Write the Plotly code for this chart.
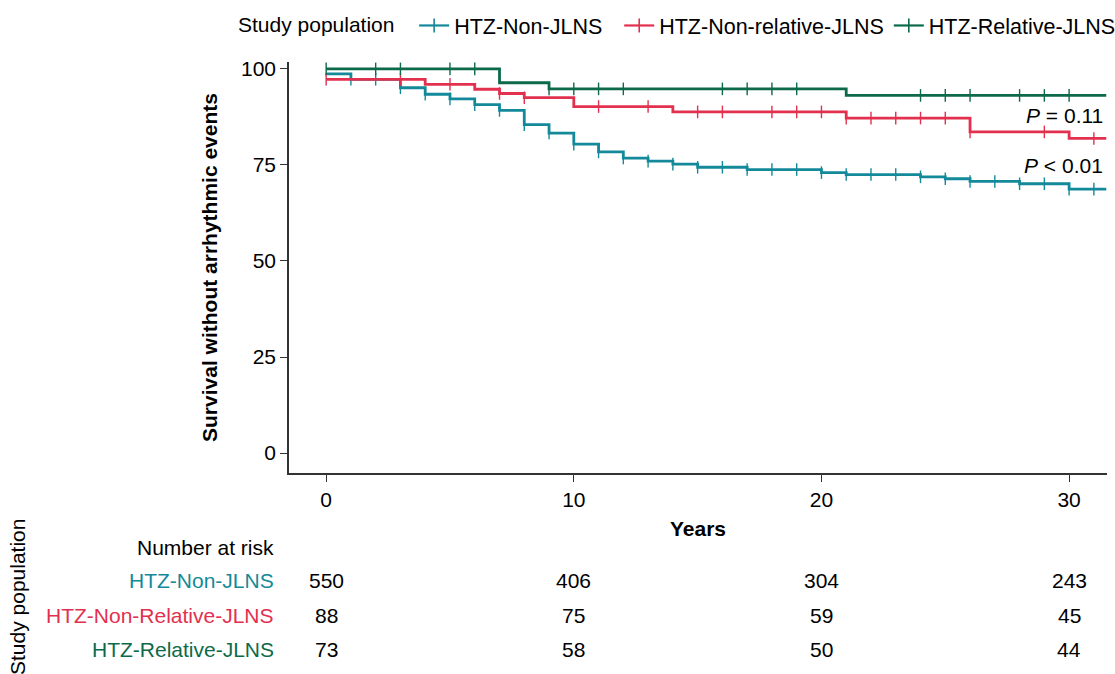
import plotly.graph_objects as go

# ---------------- data ----------------
groups = ["HTZ-Non-JLNS", "HTZ-Non-relative-JLNS", "HTZ-Relative-JLNS"]
legend_pad = ["&nbsp;&nbsp;", "", ""]
table_labels = ["HTZ-Non-JLNS", "HTZ-Non-Relative-JLNS", "HTZ-Relative-JLNS"]
colors = ["#13899a", "#e2304f", "#0c6a4a"]

teal_t = [0, 1, 3, 4, 5, 6, 7, 8, 9, 10, 11, 12, 13, 14, 15, 17, 20, 21, 24, 25, 26, 28, 30, 31.5]
teal_s = [98.7, 97.3, 95.1, 93.4, 92.2, 90.7, 89.2, 85.5, 83.3, 80.4, 78.4, 76.8, 76.0, 75.2, 74.4, 73.8,
          73.0, 72.5, 71.9, 71.4, 70.7, 70.1, 68.7, 68.7]
teal_cens = list(range(1, 32))

red_t = [0, 4, 6, 7, 8, 10, 14, 21, 26, 30, 31.5]
red_s = [97.3, 96.0, 94.7, 93.6, 92.5, 90.2, 88.8, 87.2, 83.6, 81.9, 81.9]
red_cens = [0, 3, 5, 7, 8, 11, 13, 15, 16, 18, 19, 20, 21, 22, 23, 24, 25, 26, 29, 31]

green_t = [0, 7, 9, 21, 31.5]
green_s = [100.0, 96.4, 94.8, 93.1, 93.1]
green_cens = [0, 2, 3, 5, 6, 9, 10, 11, 12, 16, 17, 18, 19, 24, 25, 26, 28, 29, 30]

risk_times = [0, 10, 20, 30]
risk_teal = [550, 406, 304, 243]
risk_red = [88, 75, 59, 45]
risk_green = [73, 58, 50, 44]

p_values = ["<i>P</i> = 0.11", "<i>P</i> &lt; 0.01"]
p_y = [87.9, 74.9]

y_ticks = [0, 25, 50, 75, 100]
x_ticks = [0, 10, 20, 30]

# ---------------- layout constants ----------------
W, H = 1115, 674
L, R, T, B = 289, 1107, 62, 473
FONT = "Arial, Liberation Sans, sans-serif"
FS = 21


def py2paper(py):
    return (B - py) / (B - T)


def px2paper(px):
    return (px - L) / (R - L)


def surv_at(times, surv, t):
    val = surv[0]
    for ti, si in zip(times, surv):
        if ti <= t:
            val = si
    return val


series = [
    (teal_t, teal_s, teal_cens),
    (red_t, red_s, red_cens),
    (green_t, green_s, green_cens),
]

fig = go.Figure()

for (t, s, cens), name, pad, col in zip(series, groups, legend_pad, colors):
    fig.add_trace(go.Scatter(x=t, y=s, mode="lines", line=dict(color=col, width=2.8, shape="hv"),
                             showlegend=False, hoverinfo="skip"))
    cy = [surv_at(t, s, c) for c in cens]
    fig.add_trace(go.Scatter(x=cens, y=cy, mode="markers",
                             marker=dict(symbol="line-ns", size=9, line=dict(color=col, width=1.4)),
                             showlegend=False, hoverinfo="skip"))
    # legend entry
    fig.add_trace(go.Scatter(x=[None], y=[None], mode="lines+markers", name=name + pad,
                             line=dict(color=col, width=2.2),
                             marker=dict(symbol="line-ns", size=10, line=dict(color=col, width=1.6))))

annotations = []
for txt, yv in zip(p_values, p_y):
    annotations.append(dict(x=31.45, y=yv, xref="x", yref="y", text=txt, showarrow=False,
                            xanchor="right", yanchor="middle", font=dict(size=FS, color="black")))

# number at risk table
annotations.append(dict(x=px2paper(276), y=py2paper(547), xref="paper", yref="paper",
                        text="Number at risk", showarrow=False, xanchor="right", yanchor="middle",
                        font=dict(size=FS, color="black")))
row_py = [580, 615, 649]
for lab, col, vals, rp in zip(table_labels, colors, [risk_teal, risk_red, risk_green], row_py):
    annotations.append(dict(x=px2paper(276), y=py2paper(rp), xref="paper", yref="paper",
                            text=lab, showarrow=False, xanchor="right", yanchor="middle",
                            font=dict(size=FS, color=col)))
    for tt, v in zip(risk_times, vals):
        annotations.append(dict(x=tt, y=py2paper(rp), xref="x", yref="paper", text=str(v),
                                showarrow=False, xanchor="center", yanchor="middle",
                                font=dict(size=FS, color="black")))

annotations.append(dict(x=px2paper(17), y=py2paper(597), xref="paper", yref="paper",
                        text="Study population", textangle=-90, showarrow=False,
                        xanchor="center", yanchor="middle", font=dict(size=FS, color="black")))

fig.update_layout(
    width=W, height=H,
    margin=dict(l=L, r=W - R, t=T, b=H - B, pad=0, autoexpand=False),
    paper_bgcolor="white", plot_bgcolor="white",
    font=dict(family=FONT, size=FS, color="black"),
    showlegend=True,
    legend=dict(orientation="h", x=px2paper(236), xanchor="left", y=py2paper(5), yanchor="top",
                title=dict(text="Study population  ", font=dict(size=FS)),
                font=dict(size=21.5), bgcolor="rgba(0,0,0,0)"),
    xaxis=dict(range=[-1.5, 31.53], tickvals=x_ticks, showgrid=False, zeroline=False,
               showline=True, linecolor="#333333", linewidth=1.6,
               ticks="outside", ticklen=7, tickcolor="#333333", tickwidth=1.4,
               title=dict(text="<b>Years</b>", standoff=11, font=dict(size=FS)),
               automargin=False),
    yaxis=dict(range=[-5.2, 101.8], tickvals=y_ticks, showgrid=False, zeroline=False,
               showline=True, linecolor="#333333", linewidth=1.6,
               ticks="outside", ticklen=7, tickcolor="#333333", tickwidth=1.4,
               title=dict(text="<b>Survival without arrhythmic events</b>", standoff=18,
                          font=dict(size=FS)),
               automargin=False),
    annotations=annotations,
)

fig.write_html("out.html")
